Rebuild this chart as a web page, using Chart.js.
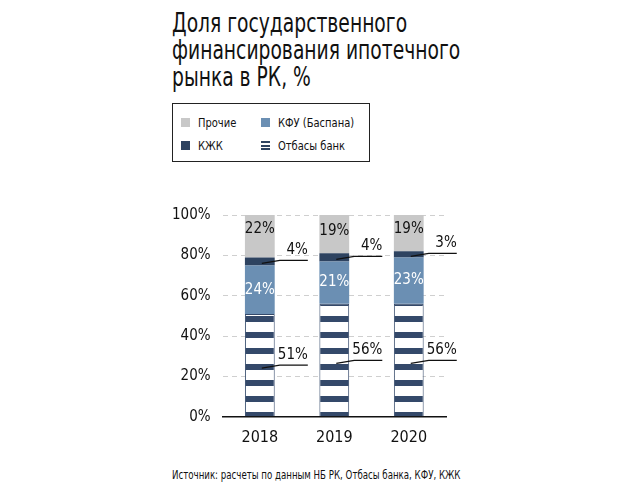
<!DOCTYPE html>
<html><head><meta charset="utf-8">
<script src="https://cdn.jsdelivr.net/npm/chart.js@4"></script>
<style>
body{margin:0;background:#fff;font-family:'DejaVu Sans Condensed','Liberation Sans Narrow','Roboto',sans-serif;color:#111;}
#title{position:absolute;left:172px;top:10px;font-size:26px;line-height:27px;transform:scaleX(0.8);transform-origin:left top;white-space:nowrap;}
#legend{position:absolute;left:172px;top:103px;width:196px;height:57px;border:1.5px solid #222;font-size:13px;}
.it{position:absolute;display:flex;align-items:center;white-space:nowrap;}
.sw{width:9px;height:9px;margin-right:8px;}
.t{display:inline-block;transform:scaleX(0.85);transform-origin:left center;}
#src{position:absolute;left:172px;top:468px;font-size:12px;transform:scaleX(0.8);transform-origin:left top;white-space:nowrap;}
#wrap{position:absolute;left:160px;top:194px;width:300px;height:256px;}
</style></head><body>
<div id="title">Доля государственного<br>финансирования ипотечного<br>рынка в РК, %</div>
<div id="legend">
 <div class="it" style="left:8px;top:11px"><div class="sw" style="background:#c8c8c8"></div><span class="t">Прочие</span></div>
 <div class="it" style="left:88px;top:11px"><div class="sw" style="background:#6b8fb3"></div><span class="t">КФУ (Баспана)</span></div>
 <div class="it" style="left:8px;top:34px"><div class="sw" style="background:#2e4360"></div><span class="t">КЖК</span></div>
 <div class="it" style="left:88px;top:34px"><div class="sw" style="background:linear-gradient(#2e4360 0 2px,#fff 2px 3.5px,#2e4360 3.5px 5.5px,#fff 5.5px 7px,#2e4360 7px)"></div><span class="t">Отбасы банк</span></div>
</div>
<div id="wrap"><canvas id="c"></canvas></div>
<div id="src">Источник: расчеты по данным НБ РК, Отбасы банка, КФУ, КЖК</div>
<script>
const years = ['2018', '2019', '2020'];
const otbasy = [51, 56, 56];
const kfu = [24, 21, 23];
const kzhk = [4, 4, 3];
const other = [22, 19, 19];

const DARK = '#34496a';
const FONT = '"DejaVu Sans Condensed", "Liberation Sans Narrow", Roboto, sans-serif';

function stripes() {
  const p = document.createElement('canvas');
  p.width = 8; p.height = 16;
  const g = p.getContext('2d');
  g.fillStyle = '#fff'; g.fillRect(0, 0, 8, 16);
  g.fillStyle = DARK; g.fillRect(0, 10, 8, 6);
  return g.createPattern(p, 'repeat');
}

const labels = {
  id: 'labels',
  afterDatasetsDraw(chart) {
    const ctx = chart.ctx;
    ctx.save();
    ctx.font = '15px ' + FONT;
    ctx.textBaseline = 'middle';
    chart.data.datasets.forEach((ds, di) => {
      const meta = chart.getDatasetMeta(di);
      meta.data.forEach((bar, i) => {
        const txt = ds.data[i] + '%';
        if (ds.inside) {
          ctx.fillStyle = ds.textColor;
          ctx.textAlign = 'center';
          ctx.fillText(txt, bar.x, ds.top ? bar.y + 16 : (bar.y + bar.base) / 2);
        } else {
          const y0 = ds.label === 'КЖК' ? (bar.y + bar.base) / 2 + 2 : bar.y + (bar.base - bar.y) * 0.53;
          const x0 = bar.x + 2;
          const x1 = bar.x + 20, y1 = y0 - 3;
          const x2 = bar.x + 48;
          ctx.strokeStyle = '#111'; ctx.lineWidth = 1.2;
          ctx.beginPath(); ctx.moveTo(x0, y0); ctx.lineTo(x1, y1); ctx.lineTo(x2, y1); ctx.stroke();
          ctx.fillStyle = '#111';
          ctx.textAlign = 'right';
          ctx.fillText(txt, x2, y1 - 10);
        }
      });
    });
    ctx.restore();
  }
};

new Chart(document.getElementById('c'), {
  type: 'bar',
  data: {
    labels: years,
    datasets: [
      { label: 'Отбасы банк', data: otbasy, backgroundColor: stripes(), borderColor: DARK, borderWidth: 1 },
      { label: 'КФУ (Баспана)', data: kfu, backgroundColor: '#6b8fb3', inside: true, textColor: '#fff' },
      { label: 'КЖК', data: kzhk, backgroundColor: '#2e4360' },
      { label: 'Прочие', data: other, backgroundColor: '#c8c8c8', inside: true, top: true, textColor: '#111' }
    ]
  },
  options: {
    responsive: true,
    maintainAspectRatio: false,
    animation: false,
    layout: { padding: { right: 14, top: 0 } },
    datasets: { bar: { barPercentage: 0.4, categoryPercentage: 1 } },
    plugins: { legend: { display: false }, tooltip: { enabled: false } },
    scales: {
      x: {
        stacked: true,
        grid: { display: false },
        border: { color: '#111', width: 1.5 },
        ticks: { color: '#111', font: { size: 16, family: FONT } }
      },
      y: {
        stacked: true, min: 0, max: 100,
        ticks: { stepSize: 20, callback: v => v + '%', color: '#111', padding: 12,
          font: { size: 15, family: FONT } },
        grid: { color: '#cfcfcf', drawTicks: false },
        border: { display: false, dash: [5, 4] }
      }
    }
  },
  plugins: [labels]
});
</script>
</body></html>
